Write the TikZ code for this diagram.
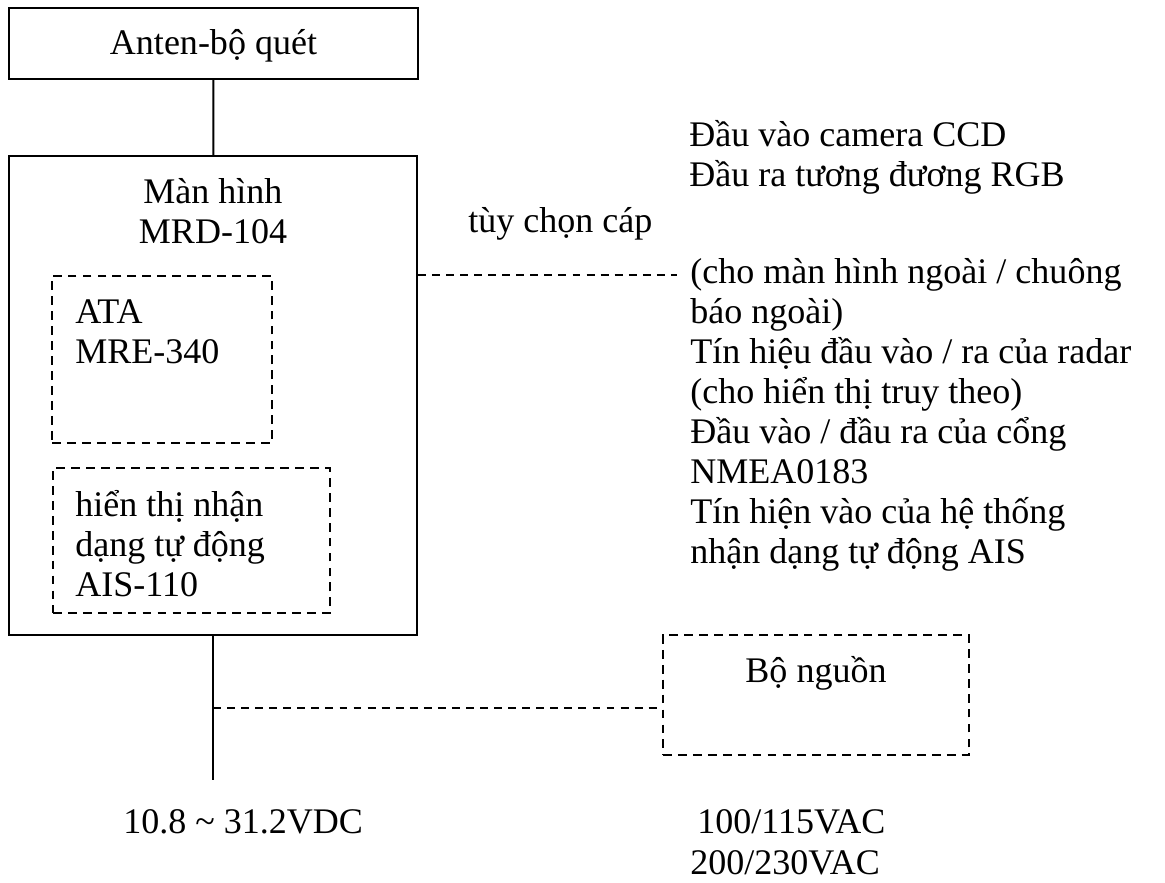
\documentclass[tikz,border=0pt]{standalone}
\usepackage{fontspec}
\setmainfont{Liberation Serif}
\usetikzlibrary{positioning}

\begin{document}
\begin{tikzpicture}[
    x=0.02cm, y=-0.02cm,
    font=\fontsize{20.5}{22.7}\selectfont,
    % Styles
    unitbox/.style={rectangle, draw=black, line width=1.1pt, inner sep=0pt},
    optbox/.style={rectangle, draw=black, line width=0.9pt, dash pattern=on 5pt off 3.5pt, inner sep=0pt},
    wire/.style={-, line width=1.1pt, draw=black},
    dashwire/.style={-, line width=0.9pt, draw=black, dash pattern=on 4.5pt off 3.5pt},
    txt/.style={inner sep=0pt, align=left, anchor=base west}
]
\useasboundingbox (0,0) rectangle (1165,882);

% --- Radar units ---
\node[unitbox, minimum width=8.18cm, minimum height=1.42cm, text depth=0.5ex] (antenna) at (213.5,43.5) {Anten-bộ quét};
\node[unitbox, minimum width=8.16cm, minimum height=9.58cm] (display) at (213,395.5) {};
\node[txt, anchor=base, align=center] (display_title) at (213,243) {Màn hình\\MRD-104};

% --- Options inside the display ---
\node[optbox, minimum width=4.4cm, minimum height=3.34cm] (ata) at (162,359.5) {};
\node[txt] (ata_text) at (75,363) {ATA\\MRE-340};
\node[optbox, minimum width=5.54cm, minimum height=2.9cm] (ais) at (191.5,540.5) {};
\node[txt] (ais_text) at (75,596) {hiển thị nhận\\dạng tự động\\AIS-110};

% --- Power supply ---
\node[optbox, minimum width=6.12cm, minimum height=2.4cm] (psu) at (816,695) {};
\node[txt, anchor=base] (psu_text) at (816,682) {Bộ nguồn};

% --- Free ends ---
\coordinate (cable_end) at (677,275);
\coordinate (tap) at (213,708);
\coordinate (vdc_end) at (213,780);

% --- Connections ---
\draw[wire] (antenna) -- (display);
\draw[wire] (display.south) -- (vdc_end);
\draw[dashwire] (cable_end -| display.east) -- (cable_end);
\draw[dashwire] (tap) -- (tap -| psu.west);

% --- Labels ---
\node[txt] (cable_label) at (468,232) {tùy chọn cáp};
\node[txt] (video_io) at (689,186) {Đầu vào camera CCD\\Đầu ra tương đương RGB};
\node[txt] (port_list) at (690,563) {(cho màn hình ngoài / chuông\\báo ngoài)\\Tín hiệu đầu vào / ra của radar\\(cho hiển thị truy theo)\\Đầu vào / đầu ra của cổng\\NMEA0183\\Tín hiện vào của hệ thống\\nhận dạng tự động AIS};
\node[txt] (dc_supply) at (123,833) {10.8 \textasciitilde{} 31.2VDC};
\node[txt] (ac_supply_a) at (697,833) {100/115VAC};
\node[txt] (ac_supply_b) at (690,874) {200/230VAC};

\end{tikzpicture}
\end{document}
